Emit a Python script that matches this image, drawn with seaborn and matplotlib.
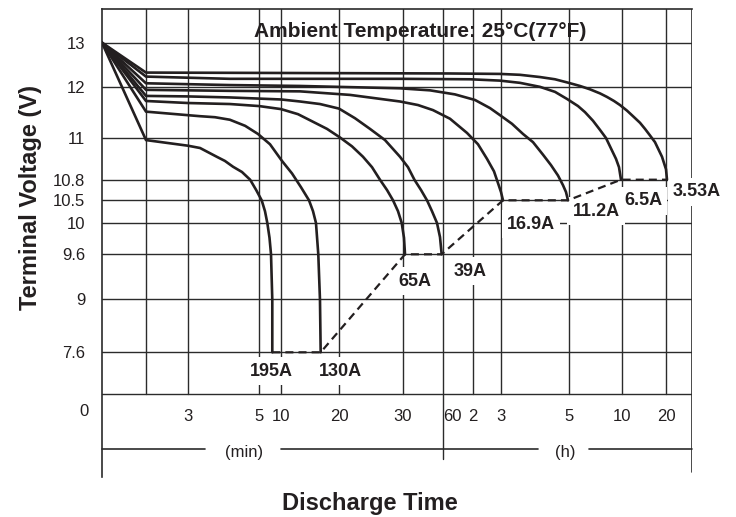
import numpy as np
import pandas as pd
import matplotlib
matplotlib.use("Agg")
import matplotlib.pyplot as plt
from matplotlib import transforms
import seaborn as sns

# ------------------------------------------------------------------ data
currents = ["195A", "130A", "65A", "39A", "16.9A", "11.2A", "6.5A", "3.53A"]

# discharge time (minutes) and terminal voltage (V) for each current
t_195a = [0, 1, 3.0, 3.34, 3.81, 4.04, 4.27, 4.52, 4.75, 4.92, 5.61, 6.36, 6.89, 7.39, 7.73, 8.02, 8.02]
v_195a = [13.0, 10.99, 10.963, 10.952, 10.91, 10.89, 10.862, 10.837, 10.80, 10.65, 10.50, 10.26,
          10.00, 9.81, 9.60, 8.97, 7.60]

t_130a = [0, 1, 3, 3.34, 3.76, 4.18, 4.61, 4.97, 7.5, 10.17, 11.9, 13.45, 14.83, 15.52, 16.03,
          16.43, 16.72, 16.84]
v_130a = [13.0, 11.52, 11.45, 11.43, 11.41, 11.36, 11.24, 11.08, 10.97, 10.89, 10.83, 10.69, 10.50,
          10.26, 10.00, 9.60, 8.97, 7.60]

t_65a = [0, 1, 3, 4.18, 5, 10, 12.93, 15.52, 17.93, 20.16, 22.03, 23.75, 25.16, 26.4, 27.5, 28.44,
         29.22, 29.8, 30.75, 31.5]
v_65a = [13.0, 11.73, 11.69, 11.67, 11.63, 11.57, 11.47, 11.32, 11.18, 11.01, 10.96, 10.91, 10.86,
         10.80, 10.65, 10.50, 10.26, 10.00, 9.81, 9.60]

t_39a = [0, 1, 3, 4.18, 10, 13.28, 16.72, 20, 22.5, 24.84, 27.19, 29.53, 33.75, 38.55, 43.5, 48,
         51.75, 55.5, 57.75, 59.0]
v_39a = [13.0, 11.83, 11.82, 11.80, 11.76, 11.72, 11.67, 11.58, 11.39, 11.18, 10.99, 10.91, 10.86,
         10.80, 10.65, 10.50, 10.26, 10.00, 9.82, 9.60]

t_16_9a = [0, 1, 4.18, 13.28, 21.72, 29.53, 41.25, 52.5, 74, 108, 130.7, 150, 165, 173.6, 180, 183.5]
v_16_9a = [13.0, 11.95, 11.93, 11.92, 11.85, 11.72, 11.65, 11.55, 11.38, 11.10, 10.97, 10.90,
           10.84, 10.75, 10.62, 10.50]

t_11_2a = [0, 1, 4.18, 13.28, 29.53, 50.25, 84, 124.3, 156.4, 177.9, 199.4, 218.8, 236.5, 254.1,
           268.2, 280.6, 289.4, 294.7, 298.2]
v_11_2a = [13.0, 12.09, 12.05, 12.03, 11.98, 11.94, 11.86, 11.75, 11.59, 11.45, 11.28, 11.08,
           10.98, 10.92, 10.87, 10.82, 10.72, 10.62, 10.50]

t_6_5a = [0, 1, 4.18, 29.53, 114, 177.8, 213.5, 248.8, 275.3, 296.5, 351, 390.5, 435.8, 475.4,
          509.4, 543.3, 566, 583, 594.3]
v_6_5a = [13.0, 12.24, 12.19, 12.19, 12.18, 12.15, 12.10, 12.01, 11.91, 11.77, 11.63, 11.51,
          11.34, 11.16, 11.00, 10.94, 10.90, 10.86, 10.80]

t_3_53a = [0, 1, 13.28, 74, 177.8, 213.5, 248.8, 275.3, 296.5, 362, 418.9, 475.4, 515, 554.7, 588.7,
           668, 750, 845.5, 913.6, 982, 1050, 1104.5, 1145.5, 1172.7, 1200, 1211.5]
v_3_53a = [13.0, 12.33, 12.32, 12.31, 12.30, 12.28, 12.23, 12.18, 12.11, 12.03, 11.96, 11.88, 11.81,
           11.73, 11.65, 11.54, 11.43, 11.30, 11.18, 11.05, 10.98, 10.94, 10.91, 10.88, 10.85, 10.80]

curve_times = [t_195a, t_130a, t_65a, t_39a, t_16_9a, t_11_2a, t_6_5a, t_3_53a]
curve_volts = [v_195a, v_130a, v_65a, v_39a, v_16_9a, v_11_2a, v_6_5a, v_3_53a]

volt_ticks = [13, 12, 11, 10.8, 10.5, 10, 9.6, 9, 7.6]
volt_tick_labels = ["13", "12", "11", "10.8", "10.5", "10", "9.6", "9", "7.6"]
time_ticks = [3, 5, 10, 20, 30, 60, 120, 180, 300, 600, 1200]
time_tick_labels = ["3", "5", "10", "20", "30", "60", "2", "3", "5", "10", "20"]
time_grid = [1] + time_ticks

# ------------------------------------------------------------ axis scales
# piecewise axis layout (scale knots -> relative axis length)
time_knots = [0, 1, 3, 5, 10, 20, 30, 60, 120, 180, 300, 600, 1200, 1500]
time_len = [0, 44, 86, 157, 179, 237, 301, 341, 371, 399, 467, 520, 564, 590]
volt_knots = [-2.0, 0, 7.6, 9, 9.6, 10, 10.5, 10.8, 11, 12, 13, 13.75]
volt_len = [0, 83.3, 124.7, 178.3, 222.7, 254, 276.7, 297.3, 339, 389.7, 434.3, 468]


def t_fwd(x):
    return np.interp(x, time_knots, time_len)


def t_inv(p):
    return np.interp(p, time_len, time_knots)


def v_fwd(y):
    return np.interp(y, volt_knots, volt_len)


def v_inv(p):
    return np.interp(p, volt_len, volt_knots)


# ------------------------------------------------------------------ style
sns.set_theme(style="white")
plt.rcParams["font.family"] = ["Liberation Sans", "DejaVu Sans"]
INK = "#231f20"
GRID = "#2b2b2b"
TICK_SIZE = 12
LABEL_SIZE = 13

fig = plt.figure(figsize=(7.36, 5.17), dpi=100)
ax = fig.add_axes([102 / 736, 1 - 477 / 517, 590 / 736, 468 / 517])
ax.set_xscale("function", functions=(t_fwd, t_inv))
ax.set_yscale("function", functions=(v_fwd, v_inv))
ax.set_xlim(time_knots[0], time_knots[-1])
ax.set_ylim(volt_knots[0], volt_knots[-1])

# ------------------------------------------------------------------ grid
zero_frac = (v_fwd(0) - v_fwd(volt_knots[0])) / (v_fwd(volt_knots[-1]) - v_fwd(volt_knots[0]))
for v in volt_ticks + [0]:
    ax.axhline(v, color=GRID, lw=1.0, zorder=1)
for t in time_grid:
    ax.axvline(t, ymin=zero_frac, ymax=1, color=GRID, lw=1.0, zorder=1)
# divider between minutes and hours, right frame edge
ax.axvline(60, ymin=0.0385, ymax=zero_frac, color=GRID, lw=1.0, zorder=1)
ax.axvline(time_knots[-1], ymin=0.0107, ymax=1, color=GRID, lw=1.2, zorder=1)

for side in ["right", "bottom"]:
    ax.spines[side].set_visible(False)
for side in ["left", "top"]:
    ax.spines[side].set_color(GRID)
    ax.spines[side].set_linewidth(1.2)

# --------------------------------------------------------------- curves
rows = []
for cur, ts, vs in zip(currents, curve_times, curve_volts):
    for t, v in zip(ts, vs):
        rows.append({"current": cur, "minutes": t, "volts": v})
df = pd.DataFrame(rows)

sns.lineplot(data=df, x="minutes", y="volts", units="current", estimator=None,
             sort=False, color=INK, lw=1.9, legend=False, ax=ax, zorder=4)

end_t = [ts[-1] for ts in curve_times]
end_v = [vs[-1] for vs in curve_volts]
ax.plot(end_t, end_v, color=INK, lw=1.6, ls=(0, (3.6, 2.3)), zorder=4)

# current labels next to each end-of-discharge point
label_offsets = [(-1, -19), (20, -19), (10, -27), (28, -17),
                 (28, -24), (28, -11), (22, -21), (30, -12)]
for cur, t, v, off in zip(currents, end_t, end_v, label_offsets):
    ax.annotate(cur, xy=(t, v), xytext=off, textcoords="offset pixels",
                ha="center", va="center", fontsize=LABEL_SIZE, fontweight="bold",
                color=INK, zorder=3,
                bbox=dict(boxstyle="square,pad=0.3", fc="white", ec="none"))

# ------------------------------------------------------------------ ticks
ax.set_yticks(volt_ticks)
ax.set_yticklabels(volt_tick_labels)
ax.tick_params(axis="y", length=0, pad=12, labelsize=TICK_SIZE, labelcolor=INK)
ax.set_xticks([])
ax.minorticks_off()

ax.text(-13 / 590, 0.141, "0", transform=ax.transAxes, ha="right", va="center",
        fontsize=TICK_SIZE, color=INK)

row = transforms.blended_transform_factory(ax.transData, ax.transAxes)
for t, lab in zip(time_ticks, time_tick_labels):
    dx = 9 if lab == "60" else 0
    ax.annotate(lab, xy=(t, 0.130), xycoords=row, xytext=(dx, 0),
                textcoords="offset pixels", ha="center", va="center",
                fontsize=TICK_SIZE, color=INK)

# minutes / hours unit band
band_y = 0.0592
for x0, x1 in [(0, 0.1746), (0.3034, 0.739), (0.8254, 1.0)]:
    ax.plot([x0, x1], [band_y, band_y], transform=ax.transAxes, color=GRID,
            lw=1.2, zorder=1, clip_on=False)
ax.text(0.2407, 0.0534, "(min)", transform=ax.transAxes, ha="center", va="center",
        fontsize=TICK_SIZE, color=INK)
ax.text(0.7847, 0.0534, "(h)", transform=ax.transAxes, ha="center", va="center",
        fontsize=TICK_SIZE, color=INK)

ax.set_xlabel("")
ax.set_ylabel("")

# ----------------------------------------------------------------- titles
fig.text(420 / 736, 1 - 37 / 517, "Ambient Temperature: 25°C(77°F)",
         ha="center", va="baseline", fontsize=15, fontweight="bold", color=INK)
fig.text(37 / 736, 1 - 197.5 / 517, "Terminal Voltage (V)", rotation=90,
         rotation_mode="anchor", ha="center", va="baseline",
         fontsize=17, fontweight="bold", color=INK)
fig.text(370 / 736, 1 - 510 / 517, "Discharge Time", ha="center", va="baseline",
         fontsize=17, fontweight="bold", color=INK)

fig.savefig("out.png", dpi=100)
